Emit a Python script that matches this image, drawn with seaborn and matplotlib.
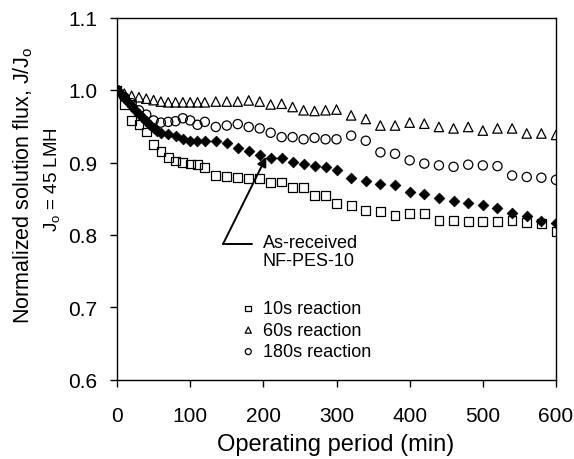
import matplotlib
matplotlib.use("Agg")
import matplotlib.pyplot as plt
import seaborn as sns
import numpy as np

# ---------------- data ----------------
t_grid = [0, 10, 20, 30, 40, 50, 60, 70, 80, 90, 100, 110, 120,
          135, 150, 165, 180, 195, 210, 225, 240, 255, 270, 285, 300,
          320, 340, 360, 380, 400, 420, 440, 460, 480, 500, 520, 540, 560, 580, 600]

flux_10s = [1.0, 0.980, 0.958, 0.952, 0.942, 0.925, 0.915, 0.907, 0.902, 0.900, 0.898, 0.897, 0.893,
            0.882, 0.881, 0.879, 0.878, 0.878, 0.872, 0.873, 0.866, 0.865, 0.855, 0.855, 0.8435,
            0.841, 0.834, 0.832, 0.827, 0.830, 0.830, 0.8205, 0.8205, 0.819, 0.819, 0.819, 0.8205,
            0.817, 0.816, 0.805]

flux_60s = [1.0, 0.995, 0.992, 0.990, 0.988, 0.986, 0.984, 0.983, 0.983, 0.983, 0.983, 0.983, 0.983,
            0.984, 0.984, 0.984, 0.9856, 0.984, 0.980, 0.981, 0.9765, 0.972, 0.971, 0.972, 0.973,
            0.965, 0.960, 0.951, 0.951, 0.955, 0.9535, 0.949, 0.947, 0.949, 0.944, 0.947, 0.947,
            0.940, 0.940, 0.938]

flux_180s = [1.0, 0.990, 0.982, 0.972, 0.966, 0.958, 0.955, 0.956, 0.957, 0.961, 0.958, 0.952, 0.956,
             0.949, 0.951, 0.953, 0.949, 0.947, 0.941, 0.935, 0.935, 0.932, 0.934, 0.932, 0.932,
             0.937, 0.930, 0.914, 0.912, 0.903, 0.8985, 0.896, 0.894, 0.897, 0.896, 0.895, 0.882,
             0.880, 0.879, 0.876]

t_asrec = [0, 5, 10, 15, 20, 25, 30, 35, 40, 45, 50, 55, 60, 70, 80, 90, 100, 110, 120,
           135, 150, 165, 180, 195, 210, 225, 240, 255, 270, 285, 300,
           320, 340, 360, 380, 400, 420, 440, 460, 480, 500, 520, 540, 560, 580, 600]
flux_asrec = [1.0, 0.994, 0.990, 0.984, 0.978, 0.972, 0.967, 0.962, 0.957, 0.952, 0.948, 0.944, 0.941,
              0.939, 0.936, 0.932, 0.930, 0.930, 0.930,
              0.930, 0.927, 0.920, 0.916, 0.911, 0.906, 0.906, 0.901, 0.8985, 0.895, 0.894, 0.889,
              0.878, 0.874, 0.871, 0.8686, 0.860, 0.856, 0.851, 0.847, 0.8435, 0.841, 0.8366,
              0.830, 0.8265, 0.819, 0.816]

legend_labels = ["10s reaction", "60s reaction", "180s reaction"]
annot_text = "As-received\nNF-PES-10"
annot_tip = (204, 0.9077)
annot_elbow = (145, 0.7877)
annot_hend = (185, 0.7877)
annot_textpos = (199, 0.7775)

x_ticks = [0, 100, 200, 300, 400, 500, 600]
y_ticks = [0.6, 0.7, 0.8, 0.9, 1.0, 1.1]

# ---------------- style ----------------
sns.set_style("ticks")
plt.rcParams['font.family'] = ['Liberation Sans', 'DejaVu Sans']
plt.rcParams['mathtext.fontset'] = 'custom'
plt.rcParams['mathtext.rm'] = 'Liberation Sans'
plt.rcParams['mathtext.it'] = 'Liberation Sans'
for key in ['text.color', 'axes.labelcolor', 'xtick.color', 'ytick.color', 'axes.edgecolor']:
    plt.rcParams[key] = 'black'

fig = plt.figure(figsize=(5.74, 4.6), dpi=100)
ax = fig.add_axes([117 / 574, 1 - 381 / 460, 439 / 574, 362.5 / 460])

common = dict(ax=ax, edgecolor="black", linewidth=0.9, zorder=3)
sns.scatterplot(x=t_grid, y=flux_10s, marker="s", s=40, facecolor="none",
                label=legend_labels[0], **common)
sns.scatterplot(x=t_grid, y=flux_60s, marker="^", s=46, facecolor="none",
                label=legend_labels[1], **common)
sns.scatterplot(x=t_grid, y=flux_180s, marker="o", s=44, facecolor="none",
                label=legend_labels[2], **common)
sns.scatterplot(x=t_asrec, y=flux_asrec, marker="D", s=30, color="black",
                edgecolor="black", linewidth=0.5, ax=ax, zorder=4, legend=False)

ax.set_xlim(0, 600)
ax.set_ylim(0.6, 1.1)
ax.set_xticks(x_ticks)
ax.set_yticks(y_ticks)
ax.set_yticklabels([f"{v:.1f}" for v in y_ticks])
for sp in ax.spines.values():
    sp.set_linewidth(1.0)
    sp.set_color("black")
ax.tick_params(axis="x", direction="out", length=5, width=1, pad=14, labelsize=15)
ax.tick_params(axis="y", direction="out", length=5, width=1, pad=9, labelsize=15)
ax.set_xlabel("")
ax.set_ylabel("")

# annotation arrow
ax.annotate("", xy=annot_tip, xytext=annot_elbow,
            arrowprops=dict(arrowstyle="-|>", color="black", lw=1.4,
                            mutation_scale=14, shrinkA=0, shrinkB=0))
ax.plot([annot_elbow[0], annot_hend[0]], [annot_elbow[1], annot_hend[1]],
        color="black", lw=1.4)
ax.text(annot_textpos[0], annot_textpos[1], annot_text, fontsize=13,
        ha="left", va="center", linespacing=1.05)

leg = ax.legend(loc="center left", bbox_to_anchor=(0.262, 0.137), frameon=False,
                fontsize=13, handlelength=0.8, handletextpad=0.4,
                labelspacing=0.25, borderpad=0, markerscale=0.65)

fig.text((218 + 453) / 2 / 574, 1 - 445 / 460, "Operating period (min)",
         ha="center", va="center", fontsize=17)
fig.text(23 / 574, 1 - 185 / 460, r"Normalized solution flux, J/J$_\mathregular{o}$",
         ha="center", va="center", rotation=90, fontsize=15.5)
fig.text(52 / 574, 1 - 180 / 460, r"J$_\mathregular{o}$ = 45 LMH",
         ha="center", va="center", rotation=90, fontsize=13.5)

fig.savefig("out.png", dpi=100)
